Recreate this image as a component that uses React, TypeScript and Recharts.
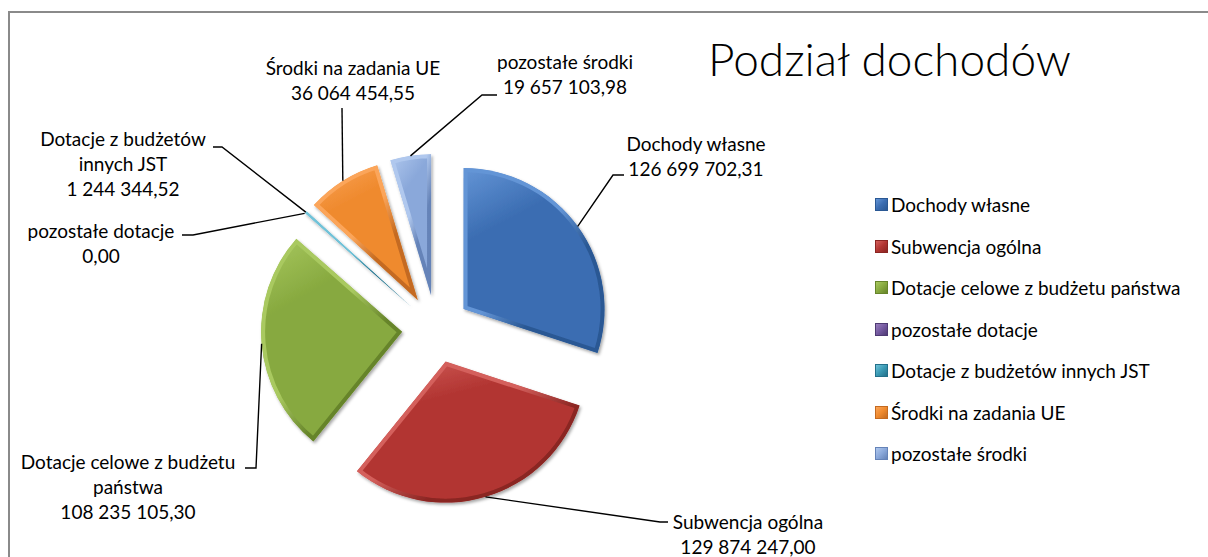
import React from "react";
import { PieChart, Pie, Sector, Legend } from "recharts";

const categories = [
  "Dochody własne",
  "Subwencja ogólna",
  "Dotacje celowe z budżetu państwa",
  "pozostałe dotacje",
  "Dotacje z budżetów innych JST",
  "Środki na zadania UE",
  "pozostałe środki",
];
const values = [126699702.31, 129874247.0, 108235105.3, 0, 1244344.52, 36064454.55, 19657103.98];
// label text as it is wrapped on the chart
const labelNames = [
  ["Dochody własne"],
  ["Subwencja ogólna"],
  ["Dotacje celowe z budżetu", "państwa"],
  ["pozostałe dotacje"],
  ["Dotacje z budżetów", "innych JST"],
  ["Środki na zadania UE"],
  ["pozostałe środki"],
];

const light = ["#6495d6", "#d4605c", "#a9c960", "#9a80bd", "#70c3d9", "#fba55a", "#b0c8ee"];
const mid = ["#3b6db2", "#b23532", "#87a93f", "#7459a0", "#3a9ab4", "#ef8a2e", "#8aa8da"];
const dark = ["#2a5894", "#8a2522", "#66842a", "#4e3a73", "#23708a", "#c46a20", "#6583b8"];

const data = categories.map((name, i) => ({ name, value: values[i] }));

// where each label sits, and the bend points of its leader line
const labelPos = [
  { x: 696, y: 151, leader: [[613, 175], [624, 175]] },
  { x: 748, y: 529, leader: [[660, 522], [668, 522]] },
  { x: 128, y: 469, leader: [[256, 468], [245, 468]] },
  { x: 101, y: 238, leader: [[193, 235], [182, 235]] },
  { x: 123, y: 146, leader: [[222, 147], [213, 147]] },
  { x: 353, y: 75, leader: [[342, 108]] },
  { x: 565, y: 69, leader: [[482, 95], [497, 95]] },
];

const EXPLODE = 34;
const LINE_H = 25;
const FONT = "Lato, 'Open Sans', 'DejaVu Sans', sans-serif";

const fmt = (v: number) => {
  const [i, d] = v.toFixed(2).split(".");
  return i.replace(/\B(?=(\d{3})+(?!\d))/g, " ") + "," + d;
};

const RAD = Math.PI / 180;

function renderSlice(props: any) {
  const { cx, cy, outerRadius, startAngle, endAngle, index, value } = props;
  const midA = (startAngle + endAngle) / 2;
  const ux = Math.cos(-midA * RAD);
  const uy = Math.sin(-midA * RAD);
  const sx = cx + ux * EXPLODE;
  const sy = cy + uy * EXPLODE;
  const px = sx + ux * outerRadius;
  const py = sy + uy * outerRadius;
  const pos = labelPos[index];
  const pts = [[px, py], ...pos.leader].map((p) => p.join(",")).join(" ");
  const lines = [...labelNames[index], fmt(value)];
  const sec = { cx: sx, cy: sy, innerRadius: 0, outerRadius, startAngle, endAngle };
  return (
    <g key={`slice-${index}`}>
      <defs>
        <linearGradient id={`fill-${index}`} x1="0" y1="0" x2="0.4" y2="1">
          <stop offset="0%" stopColor={light[index]} />
          <stop offset="35%" stopColor={mid[index]} />
          <stop offset="100%" stopColor={mid[index]} />
        </linearGradient>
        <linearGradient id={`edge-${index}`} x1="0" y1="0" x2="1" y2="1">
          <stop offset="0%" stopColor={light[index]} />
          <stop offset="45%" stopColor={light[index]} />
          <stop offset="65%" stopColor={dark[index]} />
          <stop offset="100%" stopColor={dark[index]} />
        </linearGradient>
        <clipPath id={`clip-${index}`}>
          <Sector {...sec} />
        </clipPath>
        <filter id={`shadow-${index}`} x="-20%" y="-20%" width="140%" height="140%">
          <feDropShadow dx="1.5" dy="2" stdDeviation="1.8" floodColor="#000" floodOpacity="0.35" />
        </filter>
      </defs>
      <g filter={`url(#shadow-${index})`}>
        <Sector
          {...sec}
          fill={`url(#fill-${index})`}
          stroke={`url(#edge-${index})`}
          strokeWidth={8}
          clipPath={`url(#clip-${index})`}
        />
      </g>
      <polyline points={pts} fill="none" stroke="#000" strokeWidth={1.4} />
      <text x={pos.x} y={pos.y} textAnchor="middle" fontSize={19} fontFamily={FONT} fill="#000">
        {lines.map((l, k) => (
          <tspan key={k} x={pos.x} y={pos.y + k * LINE_H}>
            {l}
          </tspan>
        ))}
      </text>
    </g>
  );
}

function LegendBox() {
  return (
    <div style={{ fontFamily: FONT, fontSize: 19, color: "#000" }}>
      {categories.map((c, i) => (
        <div key={c} style={{ height: 41.5, display: "flex", alignItems: "center", whiteSpace: "nowrap" }}>
          <span
            style={{
              display: "inline-block",
              width: 11,
              height: 11,
              marginRight: 3,
              border: `1px solid ${dark[i]}`,
              background: `linear-gradient(135deg, ${light[i]} 0%, ${mid[i]} 50%, ${dark[i]} 100%)`,
            }}
          />
          <span>{c}</span>
        </div>
      ))}
    </div>
  );
}

export default function App() {
  return (
    <div
      style={{
        position: "absolute",
        left: 0,
        top: 0,
        width: 1208,
        height: 557,
        overflow: "hidden",
        background: "#fff",
      }}
    >
      <div
        style={{
          position: "absolute",
          left: 8,
          top: 11,
          width: 1400,
          height: 800,
          borderLeft: "2px solid #8a8a8a",
          borderTop: "2px solid #8a8a8a",
        }}
      />
      <div style={{ position: "absolute", left: 0, top: 0 }}>
        <PieChart width={1208} height={557} margin={{ top: 0, right: 0, bottom: 0, left: 0 }}>
          <Pie
            data={data}
            dataKey="value"
            nameKey="name"
            cx={436}
            cy={329}
            outerRadius={141}
            startAngle={90}
            endAngle={-270}
            fill="transparent"
            stroke="none"
            label={renderSlice}
            labelLine={false}
            isAnimationActive={false}
          />
          <Legend
            layout="vertical"
            align="right"
            verticalAlign="top"
            content={<LegendBox />}
            wrapperStyle={{ left: 875, top: 184, width: 330, right: "auto" }}
          />
        </PieChart>
      </div>
      <div
        style={{
          position: "absolute",
          left: 708,
          top: 36,
          fontFamily: FONT,
          fontWeight: 300,
          fontSize: 46,
          lineHeight: "46px",
          color: "#000",
          whiteSpace: "nowrap",
        }}
      >
        Podział dochodów
      </div>
    </div>
  );
}
